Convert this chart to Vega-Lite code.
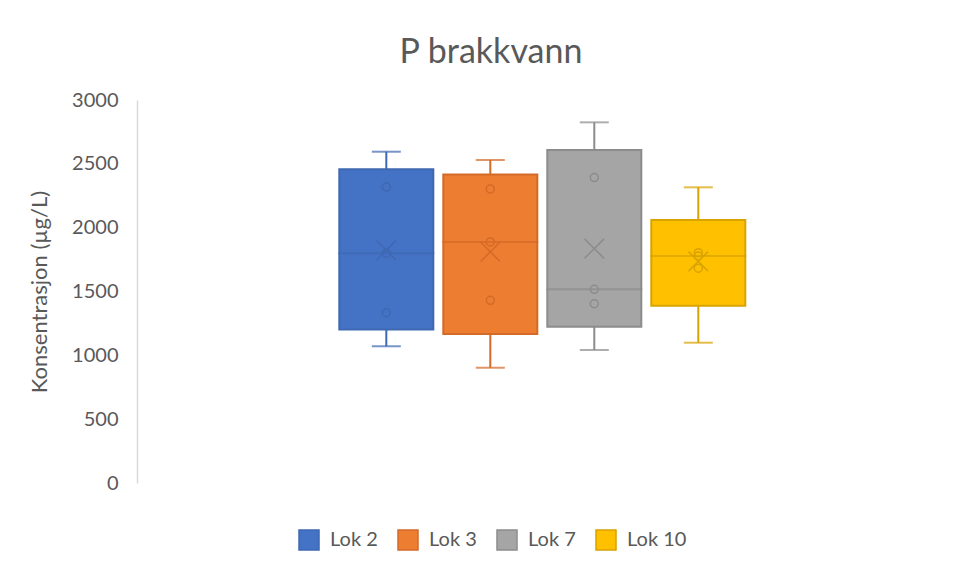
{
  "$schema": "https://vega.github.io/schema/vega-lite/v6.json",
  "autosize": "none",
  "width": 810,
  "height": 383,
  "padding": {"left": 137, "top": 100, "right": 13, "bottom": 95},
  "background": "white",
  "config": {
    "font": "Lato",
    "view": {"stroke": null}
  },
  "title": {
    "text": "P brakkvann",
    "fontSize": 34,
    "font": "Lato",
    "fontWeight": "normal",
    "color": "#595959",
    "dx": -51,
    "offset": 20
  },
  "datasets": {
    "stats": [
      {"lok": "Lok 2", "min": 1071, "q1": 1202, "median": 1799, "q3": 2457, "max": 2595, "mean": 1823},
      {"lok": "Lok 3", "min": 903, "q1": 1167, "median": 1888, "q3": 2417, "max": 2530, "mean": 1811},
      {"lok": "Lok 7", "min": 1042, "q1": 1223, "median": 1517, "q3": 2608, "max": 2825, "mean": 1836},
      {"lok": "Lok 10", "min": 1099, "q1": 1389, "median": 1778, "q3": 2060, "max": 2316, "mean": 1736}
    ],
    "points": [
      {"lok": "Lok 2", "value": 1334},
      {"lok": "Lok 2", "value": 1799},
      {"lok": "Lok 2", "value": 2318},
      {"lok": "Lok 3", "value": 1431},
      {"lok": "Lok 3", "value": 1888},
      {"lok": "Lok 3", "value": 2303},
      {"lok": "Lok 7", "value": 1404},
      {"lok": "Lok 7", "value": 1517},
      {"lok": "Lok 7", "value": 2392},
      {"lok": "Lok 10", "value": 1682},
      {"lok": "Lok 10", "value": 1778},
      {"lok": "Lok 10", "value": 1804}
    ]
  },
  "encoding": {
    "x": {
      "field": "lok",
      "type": "nominal",
      "axis": null,
      "scale": {"domain": ["Lok 2", "Lok 3", "Lok 7", "Lok 10"], "range": [202.3, 608.3], "paddingInner": 0.096, "paddingOuter": 0}
    }
  },
  "layer": [
    {
      "data": {"name": "stats"},
      "mark": {"type": "rule", "strokeWidth": 2},
      "encoding": {
        "y": {
          "field": "min",
          "type": "quantitative",
          "scale": {"domain": [0, 3000], "nice": false},
          "axis": {
            "title": "Konsentrasjon (µg/L)",
            "titleFont": "Lato",
            "titleFontSize": 22,
            "titleFontWeight": "normal",
            "titleColor": "#595959",
            "titlePadding": 20,
            "values": [0, 500, 1000, 1500, 2000, 2500, 3000],
            "format": "d",
            "labelFont": "Lato",
            "labelFontSize": 20,
            "labelColor": "#595959",
            "labelPadding": 19,
            "ticks": false,
            "grid": false,
            "domain": true,
            "domainColor": "#D9D9D9",
            "domainWidth": 1.5
          }
        },
        "y2": {"field": "max"},
        "stroke": {
          "field": "lok",
          "type": "nominal",
          "scale": {"domain": ["Lok 2", "Lok 3", "Lok 7", "Lok 10"], "range": ["#3F68B2", "#D36A28", "#8C8C8C", "#D9A300"]},
          "legend": {
            "title": null,
            "orient": "none",
            "direction": "horizontal",
            "legendX": 161,
            "legendY": 429,
            "symbolType": "square",
            "symbolSize": 400,
            "symbolStrokeWidth": 1.5,
            "symbolOpacity": 1,
            "labelFont": "Lato",
            "labelFontSize": 20,
            "labelColor": "#595959",
            "labelOffset": 10,
            "columnPadding": 17,
            "encode": {"symbols": {"update": {"opacity": {"value": 1}, "fillOpacity": {"value": 1}, "strokeOpacity": {"value": 1}}}}
          }
        }
      }
    },
    {
      "data": {"name": "stats"},
      "mark": {"type": "tick", "orient": "horizontal", "size": 27, "thickness": 0.01, "filled": false, "strokeWidth": 2},
      "encoding": {
        "y": {"field": "min", "type": "quantitative"},
        "stroke": {"field": "lok", "type": "nominal"}
      }
    },
    {
      "data": {"name": "stats"},
      "mark": {"type": "tick", "orient": "horizontal", "size": 27, "thickness": 0.01, "filled": false, "strokeWidth": 2},
      "encoding": {
        "y": {"field": "max", "type": "quantitative"},
        "stroke": {"field": "lok", "type": "nominal"}
      }
    },
    {
      "data": {"name": "stats"},
      "mark": {"type": "bar", "strokeWidth": 2, "opacity": 1},
      "encoding": {
        "y": {"field": "q1", "type": "quantitative"},
        "y2": {"field": "q3"},
        "fill": {
          "field": "lok",
          "type": "nominal",
          "scale": {"domain": ["Lok 2", "Lok 3", "Lok 7", "Lok 10"], "range": ["#4472C4", "#ED7D31", "#A5A5A5", "#FFC000"]},
          "legend": {
            "title": null,
            "orient": "none",
            "direction": "horizontal",
            "legendX": 161,
            "legendY": 429,
            "symbolType": "square",
            "symbolSize": 400,
            "symbolStrokeWidth": 1.5,
            "symbolOpacity": 1,
            "labelFont": "Lato",
            "labelFontSize": 20,
            "labelColor": "#595959",
            "labelOffset": 10,
            "columnPadding": 17,
            "encode": {"symbols": {"update": {"opacity": {"value": 1}, "fillOpacity": {"value": 1}, "strokeOpacity": {"value": 1}}}}
          }
        },
        "stroke": {"field": "lok", "type": "nominal"}
      }
    },
    {
      "data": {"name": "stats"},
      "mark": {"type": "tick", "orient": "horizontal", "size": 94, "thickness": 0.01, "filled": false, "strokeWidth": 2},
      "encoding": {
        "y": {"field": "median", "type": "quantitative"},
        "stroke": {"field": "lok", "type": "nominal"}
      }
    },
    {
      "data": {"name": "points"},
      "mark": {"type": "point", "shape": "circle", "filled": false, "size": 64, "strokeWidth": 1.5, "opacity": 1},
      "encoding": {
        "y": {"field": "value", "type": "quantitative"},
        "stroke": {"field": "lok", "type": "nominal"}
      }
    },
    {
      "data": {"name": "stats"},
      "mark": {"type": "point", "shape": "M-1,-1L1,1M-1,1L1,-1", "filled": false, "size": 380, "strokeWidth": 1.5, "opacity": 1},
      "encoding": {
        "y": {"field": "mean", "type": "quantitative"},
        "stroke": {"field": "lok", "type": "nominal"}
      }
    }
  ]
}
